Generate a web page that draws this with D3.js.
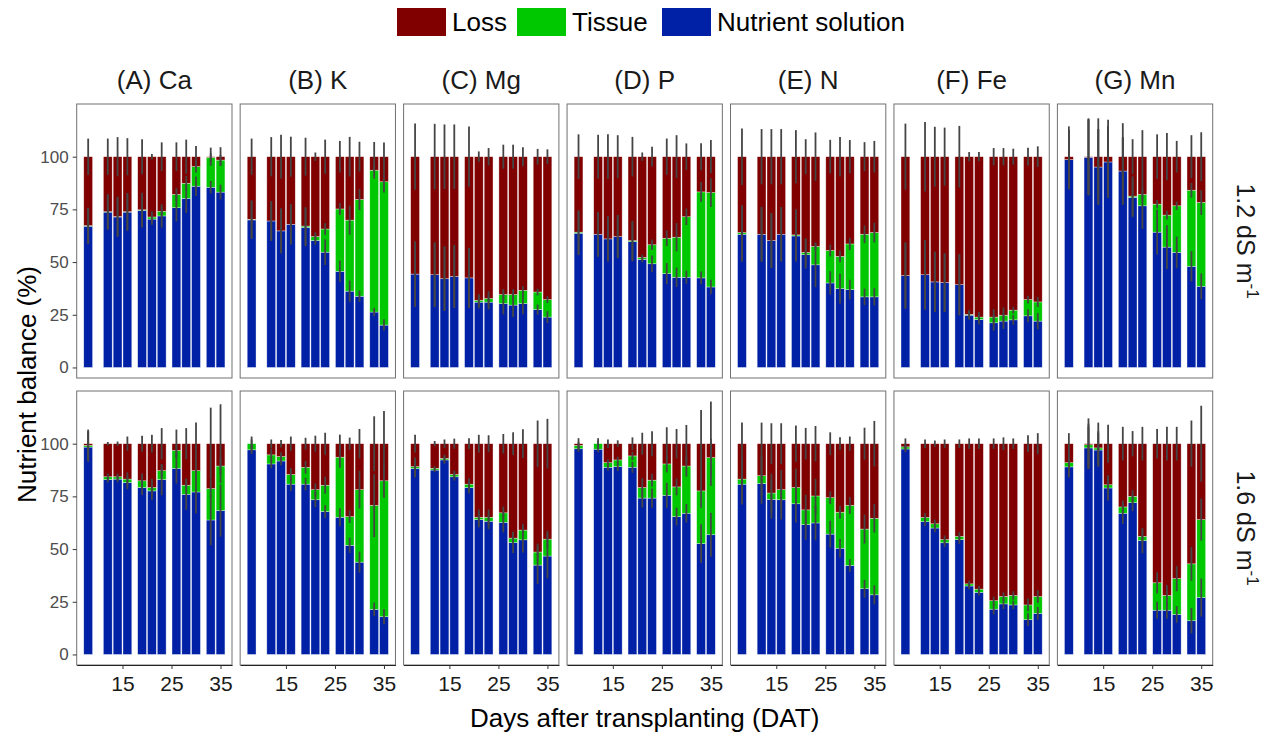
<!DOCTYPE html>
<html>
<head>
<meta charset="utf-8">
<script src="https://cdn.jsdelivr.net/npm/d3@7"></script>
<style>
  body { margin: 0; background: #fff; }
  svg { font-family: 'Liberation Sans', Arial, sans-serif; }
</style>
</head>
<body>
<svg id="chart" width="1271" height="733"></svg>
<script>
// sampling days (DAT)
const days = [8, 12, 14, 16, 19, 21, 23, 26, 28, 30, 33, 35]
const elements = ['Ca', 'K', 'Mg', 'P', 'N', 'Fe', 'Mn']
const panelTags = ['(A)', '(B)', '(C)', '(D)', '(E)', '(F)', '(G)']
const ecLevels = ['1.2', '1.6']
const seriesKeys = ['nutrient', 'tissue', 'loss']
const legendLabels = ['Loss', 'Tissue', 'Nutrient solution']
const yTicks = [0, 25, 50, 75, 100]
const xTicks = [15, 25, 35]

// EC 1.2 dS m-1, one row per element (Ca, K, Mg, P, N, Fe, Mn)
const nutrientLow = [
  [67.0, 73.7, 71.4, 73.7, 74.5, 70.4, 71.9, 75.8, 80.2, 86.0, 85.5, 83.2],
  [70.0, 69.5, 64.8, 67.9, 66.5, 60.2, 54.7, 45.6, 36.2, 33.8, 26.3, 20.1],
  [44.3, 44.0, 42.1, 43.2, 42.5, 31.0, 31.0, 30.3, 29.6, 30.3, 27.5, 23.9],
  [63.7, 63.2, 61.0, 62.1, 59.7, 51.3, 49.2, 44.5, 42.8, 42.8, 42.5, 38.2],
  [63.2, 63.2, 60.2, 63.2, 62.4, 53.5, 48.7, 40.1, 37.4, 36.9, 33.5, 33.5],
  [43.6, 44.0, 40.6, 40.3, 39.3, 24.8, 22.8, 21.2, 22.0, 22.6, 24.5, 22.0],
  [98.6, 99.7, 95.1, 97.5, 93.2, 80.7, 76.7, 64.2, 57.1, 54.6, 48.0, 38.5]
]
const tissueLow = [
  [0.3, 0.2, 0.2, 0.2, 0.3, 1.0, 2.2, 6.3, 7.2, 9.3, 14.2, 15.2],
  [0.3, 0.0, 0.0, 0.0, 0.6, 1.9, 11.0, 29.6, 33.7, 45.9, 67.3, 68.0],
  [0.0, 0.0, 0.0, 0.0, 0.0, 0.9, 1.7, 4.3, 5.0, 6.3, 8.3, 8.3],
  [0.5, 0.0, 0.0, 0.0, 0.5, 0.9, 9.0, 16.8, 19.0, 28.7, 40.8, 44.8],
  [0.8, 0.0, 0.0, 0.0, 0.5, 1.1, 8.7, 15.4, 15.3, 21.7, 29.7, 30.5],
  [0.0, 0.0, 0.0, 0.0, 0.0, 0.4, 1.1, 2.7, 2.8, 4.6, 7.7, 9.1],
  [0.0, 0.0, 0.0, 0.0, 0.0, 0.6, 5.4, 13.3, 15.2, 22.1, 36.1, 39.8]
]
const lossLow = [
  [32.7, 26.1, 28.4, 26.1, 25.2, 28.6, 25.9, 17.9, 12.6, 4.7, 0.3, 1.6],
  [29.7, 30.5, 35.2, 32.1, 32.9, 37.9, 34.3, 24.8, 30.1, 20.3, 6.4, 11.9],
  [55.7, 56.0, 57.9, 56.8, 57.5, 68.1, 67.3, 65.4, 65.4, 63.4, 64.2, 67.8],
  [35.8, 36.8, 39.0, 37.9, 39.8, 47.8, 41.8, 38.7, 38.2, 28.5, 16.7, 17.0],
  [36.0, 36.8, 39.8, 36.8, 37.1, 45.4, 42.6, 44.5, 47.3, 41.4, 36.8, 36.0],
  [56.4, 56.0, 59.4, 59.7, 60.7, 74.8, 76.1, 76.1, 75.2, 72.8, 67.8, 68.9],
  [1.4, 0.3, 4.9, 2.5, 6.8, 18.7, 17.9, 22.5, 27.7, 23.3, 15.9, 21.7]
]
const errNutrientLow = [
  [8.5, 8.3, 9.4, 8.9, 8.1, 2.7, 5.6, 6.5, 6.9, 4.6, 3.0, 3.5],
  [9.0, 9.4, 10.6, 9.5, 9.0, 2.0, 6.1, 5.1, 5.1, 2.7, 2.0, 2.6],
  [15.5, 15.3, 15.3, 14.9, 14.2, 3.0, 3.5, 5.1, 5.7, 5.1, 2.4, 2.8],
  [10.4, 10.6, 10.6, 10.2, 9.4, 1.4, 3.9, 5.0, 4.6, 3.1, 3.0, 3.4],
  [13.1, 13.0, 13.0, 12.9, 12.2, 6.7, 10.6, 5.5, 7.1, 4.7, 3.9, 4.1],
  [15.7, 16.5, 14.3, 13.9, 14.5, 2.1, 2.4, 3.8, 3.7, 2.3, 3.1, 3.9],
  [14.0, 18.0, 18.0, 17.0, 16.0, 9.4, 11.0, 10.6, 10.4, 7.5, 7.2, 6.1]
]
const errTissueLow = [
  [8.5, 8.3, 9.4, 8.9, 8.1, 2.7, 2.5, 3.0, 3.5, 2.8, 2.0, 2.5],
  [9.0, 9.4, 10.6, 9.5, 9.0, 2.0, 2.8, 2.8, 6.9, 5.0, 4.0, 5.1],
  [15.5, 15.3, 15.3, 14.9, 14.2, 3.0, 3.5, 2.5, 2.5, 2.0, 1.6, 1.6],
  [10.4, 10.6, 10.6, 10.2, 9.4, 1.4, 2.5, 3.7, 6.7, 3.9, 4.7, 6.8],
  [13.1, 13.0, 13.0, 12.9, 12.2, 6.7, 1.5, 2.8, 2.8, 2.9, 4.2, 4.7],
  [15.7, 16.5, 14.3, 13.9, 14.5, 2.1, 2.4, 3.8, 3.7, 1.6, 1.8, 2.4],
  [14.0, 18.0, 18.0, 17.0, 16.0, 9.4, 3.0, 2.0, 2.1, 2.0, 3.5, 5.9]
]
const errLossLow = [
  [8.6, 8.6, 9.3, 8.8, 8.3, 1.3, 6.8, 6.8, 8.1, 5.1, 4.3, 4.5],
  [8.6, 9.3, 10.4, 9.5, 9.0, 2.0, 8.1, 7.5, 9.4, 7.1, 7.0, 6.7],
  [15.7, 15.6, 15.3, 15.3, 14.3, 2.5, 4.1, 5.7, 5.7, 4.5, 3.7, 3.5],
  [10.6, 10.4, 10.6, 10.2, 9.4, 2.0, 4.7, 8.6, 10.2, 6.3, 6.4, 7.9],
  [13.4, 13.1, 13.1, 13.1, 12.6, 8.3, 11.5, 8.0, 9.4, 7.9, 6.9, 7.5],
  [15.7, 16.5, 14.2, 13.8, 14.6, 2.2, 2.2, 4.1, 4.1, 3.8, 4.2, 4.9],
  [14.4, 18.2, 18.2, 17.5, 15.9, 8.3, 12.6, 10.6, 11.2, 7.5, 10.2, 11.6]
]

// EC 1.6 dS m-1
const nutrientHigh = [
  [98.4, 83.0, 83.2, 81.6, 79.2, 77.6, 83.0, 88.3, 76.0, 77.1, 63.8, 68.3],
  [97.1, 90.4, 91.8, 80.8, 80.8, 73.4, 67.8, 65.1, 51.8, 43.8, 21.4, 17.9],
  [88.3, 87.5, 92.3, 84.3, 79.2, 64.0, 63.2, 62.7, 53.1, 54.4, 42.4, 46.7],
  [97.6, 97.4, 88.8, 89.1, 88.8, 74.2, 74.2, 75.5, 65.4, 67.0, 52.6, 56.8],
  [80.8, 81.1, 73.6, 73.4, 71.5, 61.6, 62.4, 57.1, 50.4, 42.2, 31.2, 28.3],
  [97.5, 63.0, 60.0, 53.0, 54.5, 32.5, 29.5, 21.5, 24.0, 23.5, 16.5, 19.5],
  [89.0, 98.0, 97.0, 79.0, 67.0, 72.0, 54.0, 21.0, 21.0, 19.0, 16.0, 27.0]
]
const tissueHigh = [
  [0.8, 1.3, 1.1, 1.6, 3.2, 1.6, 4.2, 8.5, 4.3, 10.1, 14.9, 21.1],
  [2.9, 4.3, 2.1, 4.6, 8.0, 4.8, 12.5, 28.5, 13.6, 34.4, 49.3, 64.5],
  [0.8, 0.8, 0.7, 1.1, 1.6, 1.1, 1.9, 4.5, 2.1, 4.6, 6.2, 8.0],
  [1.6, 2.6, 2.2, 3.2, 5.4, 5.0, 8.5, 14.9, 14.1, 22.4, 25.0, 36.6],
  [2.4, 3.7, 3.0, 4.8, 7.7, 7.0, 12.8, 17.3, 17.1, 28.5, 28.3, 36.3],
  [1.0, 2.0, 2.0, 1.5, 1.5, 1.0, 1.5, 4.0, 3.5, 4.5, 7.0, 8.0],
  [2.0, 1.5, 1.0, 1.5, 3.0, 3.0, 2.0, 13.0, 7.0, 17.0, 27.0, 37.0]
]
const lossHigh = [
  [0.8, 15.7, 15.7, 16.8, 17.6, 20.8, 12.8, 3.2, 19.7, 12.8, 21.3, 10.6],
  [0.0, 5.3, 6.1, 14.6, 11.2, 21.8, 19.7, 6.4, 34.6, 21.8, 29.3, 17.6],
  [10.9, 11.7, 7.0, 14.6, 19.2, 34.9, 34.9, 32.8, 44.8, 41.0, 51.4, 45.3],
  [0.8, 0.0, 9.0, 7.7, 5.8, 20.8, 17.3, 9.6, 20.5, 10.6, 22.4, 6.6],
  [16.8, 15.2, 23.4, 21.8, 20.8, 31.4, 24.8, 25.6, 32.5, 29.3, 40.5, 35.4],
  [1.5, 35.0, 38.0, 45.5, 44.0, 66.5, 69.0, 74.5, 72.5, 72.0, 76.5, 72.5],
  [9.0, 0.5, 2.0, 19.5, 30.0, 25.0, 44.0, 66.0, 72.0, 64.0, 57.0, 36.0]
]
const errNutrientHigh = [
  [7.0, 1.5, 1.5, 3.2, 3.5, 4.2, 7.4, 7.2, 7.4, 10.2, 12.0, 12.4],
  [2.0, 2.0, 2.0, 3.2, 3.0, 3.5, 3.0, 4.2, 3.6, 5.0, 3.2, 3.6],
  [4.3, 1.0, 1.8, 1.8, 2.8, 3.7, 3.8, 4.8, 5.0, 6.0, 9.0, 10.6],
  [1.5, 1.5, 1.5, 2.0, 2.6, 4.5, 4.6, 5.9, 4.2, 4.4, 9.2, 10.4],
  [9.6, 9.6, 9.2, 9.4, 9.0, 7.2, 8.2, 6.4, 4.4, 3.0, 4.2, 4.5],
  [1.5, 2.0, 2.0, 2.0, 2.0, 1.5, 1.5, 2.5, 2.5, 2.0, 3.0, 3.0],
  [5.0, 10.0, 8.0, 6.0, 5.0, 4.0, 6.0, 4.0, 4.0, 4.0, 6.0, 9.0]
]
const errTissueHigh = [
  [7.0, 1.5, 1.5, 3.2, 3.5, 4.2, 3.0, 3.0, 3.0, 4.0, 4.0, 4.0],
  [2.0, 3.0, 2.0, 3.0, 3.0, 3.0, 4.0, 5.0, 3.0, 9.0, 15.0, 8.0],
  [4.3, 1.0, 1.8, 1.8, 2.8, 3.7, 3.8, 3.0, 3.0, 3.0, 4.0, 4.0],
  [1.5, 1.5, 1.5, 1.5, 2.0, 4.5, 3.0, 4.0, 4.0, 5.0, 8.0, 9.0],
  [9.6, 9.6, 9.2, 9.4, 9.0, 7.2, 8.2, 3.0, 3.0, 4.0, 6.9, 6.8],
  [1.5, 2.0, 2.0, 2.0, 2.0, 1.5, 1.5, 2.0, 2.0, 2.0, 3.0, 3.0],
  [5.0, 10.0, 8.0, 4.0, 3.0, 3.0, 3.0, 5.0, 5.0, 6.0, 8.0, 10.0]
]
const errLossHigh = [
  [6.7, 0.8, 1.0, 3.4, 3.8, 4.2, 7.4, 6.7, 7.4, 10.0, 17.1, 18.7],
  [3.4, 2.0, 1.8, 3.4, 2.8, 3.8, 5.2, 4.3, 2.9, 7.0, 13.0, 15.5],
  [4.2, 1.3, 2.0, 2.4, 2.6, 4.2, 4.0, 4.6, 5.4, 6.8, 11.0, 11.8],
  [2.6, 2.6, 2.0, 1.6, 3.0, 5.2, 5.9, 7.8, 7.0, 8.9, 16.0, 20.0],
  [10.0, 10.0, 9.7, 9.7, 8.6, 7.5, 8.4, 5.4, 3.0, 3.4, 7.6, 10.8],
  [2.5, 2.0, 1.5, 2.0, 2.0, 2.5, 2.5, 2.5, 3.0, 2.5, 4.0, 5.0],
  [5.0, 12.0, 10.0, 9.0, 8.0, 6.0, 8.0, 7.0, 8.0, 8.0, 11.0, 18.0]
]

const rowData = [
  { n: nutrientLow, t: tissueLow, l: lossLow, en: errNutrientLow, et: errTissueLow, el: errLossLow },
  { n: nutrientHigh, t: tissueHigh, l: lossHigh, en: errNutrientHigh, et: errTissueHigh, el: errLossHigh }
]

const colors = { loss: '#800000', tissue: '#00c800', nutrient: '#0021a5' }

// layout
const panelLeft = 76.7
const panelStep = 163.45
const panelW = 155.3
const rowTops = [104, 391]
const panelH = 274

const x = d3.scaleLinear().domain([5.66, 37.34]).range([0, panelW])
const y = d3.scaleLinear().domain([-5, 125]).range([panelH, 0])
const barW = x(1.8) - x(0)

const svg = d3.select('#chart')

/**
 * Draws one facet panel: stacked bars, error bars and its border.
 */
function drawPanel (row, col) {
  const src = rowData[row]
  const table = days.map((d, i) => ({
    day: d,
    nutrient: src.n[col][i],
    tissue: src.t[col][i],
    loss: src.l[col][i]
  }))
  const stacked = d3.stack().keys(seriesKeys)(table)
  const errs = [src.en[col], src.et[col], src.el[col]]

  const g = svg.append('g')
    .attr('transform', `translate(${panelLeft + col * panelStep},${rowTops[row]})`)

  stacked.forEach((layer) => {
    g.append('g')
      .selectAll('rect')
      .data(layer)
      .enter()
      .append('rect')
      .attr('x', d => x(d.data.day) - barW / 2)
      .attr('width', barW)
      .attr('y', d => y(d[1]))
      .attr('height', d => Math.max(0, y(d[0]) - y(d[1])))
      .attr('fill', colors[layer.key])
      .attr('stroke', '#ffffff')
      .attr('stroke-opacity', 0.6)
      .attr('stroke-width', 0.6)
  })

  stacked.forEach((layer, k) => {
    g.append('g')
      .selectAll('line')
      .data(layer)
      .enter()
      .append('line')
      .attr('x1', d => x(d.data.day))
      .attr('x2', d => x(d.data.day))
      .attr('y1', (d, i) => y(d[1] + errs[k][i]))
      .attr('y2', (d, i) => y(d[1] - errs[k][i]))
      .attr('stroke', '#454545')
      .attr('stroke-width', 1.8)
  })

  g.append('rect')
    .attr('width', panelW)
    .attr('height', panelH)
    .attr('fill', 'none')
    .attr('stroke', '#707070')
    .attr('stroke-width', 1)

  if (col === 0) {
    const ax = g.append('g').call(d3.axisLeft(y).tickValues(yTicks).tickSize(4).tickPadding(4))
    ax.select('.domain').remove()
    ax.selectAll('line').attr('stroke', '#333')
    ax.selectAll('text')
      .attr('fill', '#4d4d4d')
      .style('font-size', '17px')
      .style('font-family', "'Liberation Sans', Arial, sans-serif")
  }

  if (row === 1) {
    const ax = g.append('g')
      .attr('transform', `translate(0,${panelH})`)
      .call(d3.axisBottom(x).tickValues(xTicks).tickSize(4).tickSizeOuter(0).tickPadding(7))
    ax.select('.domain').attr('stroke', '#222').attr('stroke-width', 1.2)
    ax.selectAll('line').attr('stroke', '#333')
    ax.selectAll('text')
      .attr('fill', '#1a1a1a')
      .style('font-size', '21px')
      .style('font-family', "'Liberation Sans', Arial, sans-serif")
  }

  if (row === 0) {
    svg.append('text')
      .attr('x', panelLeft + col * panelStep + panelW / 2)
      .attr('y', 89)
      .attr('text-anchor', 'middle')
      .attr('font-size', '26px')
      .attr('fill', '#1a1a1a')
      .text(`${panelTags[col]} ${elements[col]}`)
  }
}

for (let r = 0; r < 2; r++) {
  for (let c = 0; c < elements.length; c++) {
    drawPanel(r, c)
  }
}

// right strip labels (EC levels)
ecLevels.forEach((ec, r) => {
  const t = svg.append('text')
    .attr('transform', `translate(1237,${rowTops[r] + panelH / 2}) rotate(90)`)
    .attr('text-anchor', 'middle')
    .attr('font-size', '25px')
    .attr('fill', '#1a1a1a')
  t.append('tspan').text(`${ec} dS m`)
  t.append('tspan').attr('font-size', '17px').attr('dy', -10).text('-1')
})

// axis titles
svg.append('text')
  .attr('x', panelLeft + (6 * panelStep + panelW) / 2)
  .attr('y', 727)
  .attr('text-anchor', 'middle')
  .attr('font-size', '26px')
  .text('Days after transplanting (DAT)')

svg.append('text')
  .attr('transform', `translate(36,${(rowTops[0] + rowTops[1] + panelH) / 2}) rotate(-90)`)
  .attr('text-anchor', 'middle')
  .attr('font-size', '26px')
  .text('Nutrient balance (%)')

// legend
const legendKeys = ['loss', 'tissue', 'nutrient']
const legendX = [397, 517, 662]
const legend = svg.append('g')
legendKeys.forEach((k, i) => {
  legend.append('rect')
    .attr('x', legendX[i])
    .attr('y', 8)
    .attr('width', 49)
    .attr('height', 28)
    .attr('fill', colors[k])
  legend.append('text')
    .attr('x', legendX[i] + 55)
    .attr('y', 31)
    .attr('font-size', '26px')
    .text(legendLabels[i])
})
</script>
</body>
</html>
